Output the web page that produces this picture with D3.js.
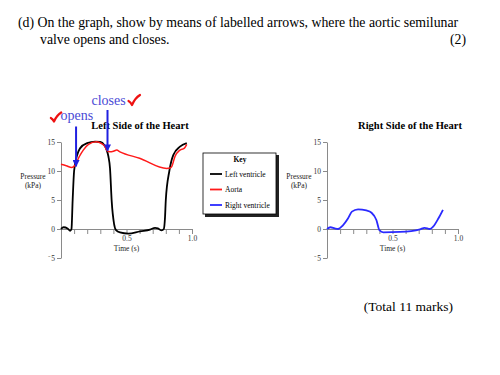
<!DOCTYPE html>
<html>
<head>
<meta charset="utf-8">
<script src="https://cdn.jsdelivr.net/npm/d3@7"></script>
<style>
    body { margin: 0; background: #fff; }
    svg { display: block; font-family: "Liberation Serif", "Times New Roman", serif; }
</style>
</head>
<body>
<div class="chart"></div>
<script>
//Values: time (s) and pressure (kPa) for each trace
const lvTime     = [0, 0.02, 0.05, 0.07, 0.08, 0.089, 0.10, 0.12, 0.145, 0.20, 0.26, 0.30, 0.33, 0.349, 0.362, 0.374, 0.387, 0.405, 0.42, 0.45, 0.514, 0.603, 0.68, 0.718, 0.74, 0.768, 0.785, 0.794, 0.80, 0.827, 0.857, 0.908, 0.96];
const lvPressure = [0, 0.3, 0.1, -0.3, 0.0, 5, 10, 12.5, 13.9, 14.8, 15.05, 15.0, 14.5, 13.6, 12.5, 10.5, 4.8, 0.9, -0.2, -0.6, -0.8, -0.4, -0.1, 0.2, 0.1, -0.25, 0, 2, 5, 10, 12.75, 14.2, 14.8];

const aortaTime     = [0, 0.04, 0.082, 0.107, 0.14, 0.17, 0.21, 0.27, 0.31, 0.336, 0.349, 0.374, 0.40, 0.425, 0.45, 0.60, 0.807, 0.83, 0.845, 0.87, 0.908, 0.94, 0.96];
const aortaPressure = [11.15, 10.9, 10.6, 11.0, 12.5, 13.6, 14.6, 15.05, 14.7, 14.2, 13.6, 13.3, 13.4, 13.6, 13.3, 12.2, 10.45, 10.5, 10.75, 12.5, 13.6, 13.9, 14.6];

const rvTime     = [0, 0.026, 0.059, 0.084, 0.12, 0.16, 0.19, 0.237, 0.30, 0.34, 0.377, 0.40, 0.43, 0.557, 0.71, 0.745, 0.785, 0.81, 0.85, 0.885];
const rvPressure = [0, 0.3, 0.1, 0, 0.6, 1.8, 3.0, 3.4, 3.2, 2.8, 1.55, -0.2, -0.57, -0.5, -0.05, 0.2, 0, 0.4, 1.8, 3.3];

const yTicks = [15, 10, 5, 0, -5];
const xTicks = [0, 0.1, 0.2, 0.3, 0.4, 0.5, 0.6, 0.7, 0.8, 0.9, 1.0];
const xTickLabels = [0.5, 1.0];

const legendLabels = ["Left ventricle", "Aorta", "Right ventricle"];
const legendColors = ["#000000", "#ff1a1a", "#2a2aff"];

//where the aortic valve opens and closes (s, kPa)
const valveLabels = ["opens", "closes"];
const valveTimes = [0.115, 0.355];
const valvePressures = [10.8, 13.5];


let chart = {};

init();

function init() {
    setDimensions();
    setScales();
    appendElements();
}

function setDimensions() {
    chart.width = 500;
    chart.height = 375;
}

function setScales() {
    chart.y = d3.scaleLinear().domain([-5, 15]).range([258, 142]);
    chart.xLeft = d3.scaleLinear().domain([0, 1]).range([61, 192]);
    chart.xRight = d3.scaleLinear().domain([0, 1]).range([327, 458]);
}

function drawPanel(x, title, titleX) {
    let g = chart.svg.append("g");

    //y axis
    let yAxis = d3.axisLeft(chart.y)
        .tickValues(yTicks)
        .tickSize(4)
        .tickSizeOuter(0)
        .tickPadding(2)
        .tickFormat(d => d < 0 ? "\u207B" + Math.abs(d) : d);

    g.append("g")
        .attr("class", "axis")
        .attr("transform", `translate(${x(0)},0)`)
        .call(yAxis);

    //x axis sits on zero pressure
    let xAxis = d3.axisBottom(x)
        .tickValues(xTicks)
        .tickSize(5)
        .tickSizeOuter(0)
        .tickPadding(2)
        .tickFormat(d => xTickLabels.includes(d) ? d.toFixed(1) : "");

    g.append("g")
        .attr("class", "axis")
        .attr("transform", `translate(0,${chart.y(0)})`)
        .call(xAxis);

    g.selectAll(".axis path, .axis line").attr("stroke", "#8a8a8a");
    g.selectAll(".axis text")
        .attr("font-family", "Liberation Serif, serif")
        .attr("font-size", 7.5)
        .attr("fill", "#333");

    g.append("text")
        .attr("x", x(0.5))
        .attr("y", 250.5)
        .attr("text-anchor", "middle")
        .attr("font-size", 7.5)
        .attr("fill", "#222")
        .text("Time (s)");

    let label = g.append("text")
        .attr("x", x(0) - 28)
        .attr("text-anchor", "middle")
        .attr("font-size", 7.5)
        .attr("fill", "#222");
    label.append("tspan").attr("x", x(0) - 28).attr("y", 179).text("Pressure");
    label.append("tspan").attr("x", x(0) - 28).attr("y", 188).text("(kPa)");

    g.append("text")
        .attr("x", titleX)
        .attr("y", 129)
        .attr("text-anchor", "middle")
        .attr("font-size", 10.5)
        .attr("font-weight", "bold")
        .text(title);
}

function drawTrace(x, times, values, color, width) {
    let line = d3.line()
        .x(d => x(d[0]))
        .y(d => chart.y(d[1]))
        .curve(d3.curveMonotoneX);

    chart.svg.append("path")
        .datum(d3.zip(times, values))
        .attr("d", line)
        .attr("fill", "none")
        .attr("stroke", color)
        .attr("stroke-width", width)
        .attr("stroke-linejoin", "round");
}

//hand drawn looking tick mark, (x, y) is the bottom of the tick
function drawCheck(x, y, s) {
    chart.svg.append("path")
        .attr("d", `M${x - 3.5 * s},${y - 4 * s}Q${x - 1.5 * s},${y - 3 * s} ${x},${y}Q${x + 3 * s},${y - 7 * s} ${x + 8 * s},${y - 10 * s}`)
        .attr("fill", "none")
        .attr("stroke", "#ee1111")
        .attr("stroke-width", 2.2)
        .attr("stroke-linecap", "round")
        .attr("stroke-linejoin", "round");
}

function appendElements() {

    chart.svg = d3.select(".chart").append("svg")
        .attr("width", chart.width)
        .attr("height", chart.height);

    //question text
    chart.svg.append("text")
        .attr("x", 18).attr("y", 27)
        .attr("font-size", 13.8)
        .text("(d) On the graph, show by means of labelled arrows, where the aortic semilunar");
    chart.svg.append("text")
        .attr("x", 40).attr("y", 43.5)
        .attr("font-size", 13.8)
        .text("valve opens and closes.");
    chart.svg.append("text")
        .attr("x", 466).attr("y", 43.5)
        .attr("font-size", 13.8)
        .attr("text-anchor", "end")
        .text("(2)");

    drawPanel(chart.xLeft, "Left Side of the Heart", 140);
    drawPanel(chart.xRight, "Right Side of the Heart", 410);

    drawTrace(chart.xLeft, lvTime, lvPressure, legendColors[0], 1.8);
    drawTrace(chart.xLeft, aortaTime, aortaPressure, legendColors[1], 1.5);
    drawTrace(chart.xRight, rvTime, rvPressure, legendColors[2], 1.8);

    //key
    let key = chart.svg.append("g").attr("transform", "translate(203,153)");
    key.append("rect")
        .attr("x", 2).attr("y", 2)
        .attr("width", 74).attr("height", 62)
        .attr("fill", "#222");
    key.append("rect")
        .attr("width", 73).attr("height", 61)
        .attr("fill", "#fff")
        .attr("stroke", "#000")
        .attr("stroke-width", 0.8);
    key.append("text")
        .attr("x", 37).attr("y", 9)
        .attr("text-anchor", "middle")
        .attr("font-size", 7.5)
        .attr("font-weight", "bold")
        .text("Key");

    let rows = key.selectAll("g.row")
        .data(legendLabels)
        .enter().append("g")
        .attr("class", "row")
        .attr("transform", (d, i) => `translate(0,${21 + i * 15.5})`);
    rows.append("line")
        .attr("x1", 7).attr("x2", 19)
        .attr("stroke", (d, i) => legendColors[i])
        .attr("stroke-width", 1.8);
    rows.append("text")
        .attr("x", 22).attr("y", 2.5)
        .attr("font-size", 7.5)
        .text(d => d);

    //valve annotations
    let arrowTop = [126.5, 110];
    chart.svg.append("defs").append("marker")
        .attr("id", "head")
        .attr("viewBox", "0 0 10 10")
        .attr("refX", 9).attr("refY", 5)
        .attr("markerWidth", 3.5).attr("markerHeight", 3.5)
        .attr("orient", "auto")
        .append("path")
        .attr("d", "M0,0L10,5L0,10Z")
        .attr("fill", "#2020e0");

    valveLabels.forEach((label, i) => {
        let ax = chart.xLeft(valveTimes[i]);
        let ay = chart.y(valvePressures[i]);

        chart.svg.append("line")
            .attr("x1", ax).attr("x2", ax)
            .attr("y1", arrowTop[i]).attr("y2", ay)
            .attr("stroke", "#2020e0")
            .attr("stroke-width", 2)
            .attr("marker-end", "url(#head)");

        chart.svg.append("text")
            .attr("x", i == 0 ? ax - 15.5 : ax - 16)
            .attr("y", i == 0 ? 120 : 104.5)
            .attr("font-size", 14)
            .attr("fill", "#4a4ad6")
            .text(label);
    });

    //red ticks from the marker
    drawCheck(54, 121.5, 0.9);
    drawCheck(132, 105, 1.0);

    chart.svg.append("text")
        .attr("x", 453).attr("y", 311)
        .attr("font-size", 13.5)
        .attr("text-anchor", "end")
        .text("(Total 11 marks)");
}
</script>
</body>
</html>
